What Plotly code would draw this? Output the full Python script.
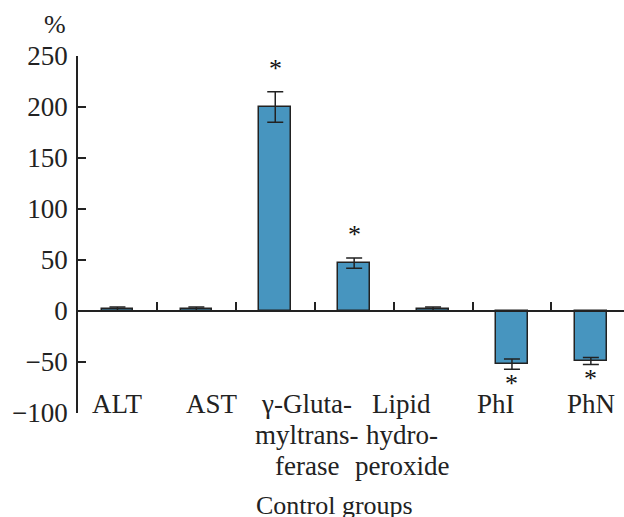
import plotly.graph_objects as go

# Data
bar_values = [2, 2, 200, 47, 2, -52, -49]
bar_errors = [2, 2, 15, 5, 2, 5, 3.5]
significant = [False, False, True, True, False, True, True]
group_labels = [["ALT"], ["AST"], ["γ-Gluta-", "myltrans-", "ferase"],
                ["Lipid", "hydro-", "peroxide"], ["PhI"], ["PhN"]]
y_ticks = [-100, -50, 0, 50, 100, 150, 200, 250]

FONT = "Liberation Serif, Times New Roman, serif"
BAR_COLOR = "#4795bf"
INK = "#222222"

W, H = 624, 517
ML, MR, MT, MB = 78, 0, 56, 104
PW, PH = W - ML - MR, H - MT - MB


def py(pix):
    return (H - MB - pix) / PH


def px(pix):
    return (pix - ML) / PW


x_pos = list(range(len(bar_values)))

fig = go.Figure()
fig.add_trace(go.Bar(
    x=x_pos, y=bar_values, width=0.4,
    marker=dict(color=BAR_COLOR, line=dict(color=INK, width=1.5)),
    error_y=dict(type="data", array=bar_errors, color=INK, thickness=1.5, width=8),
    showlegend=False,
))

annotations = []
# Category labels (evenly spread across the bars), one annotation per line
step = (len(bar_values) - 1) / (len(group_labels) - 1)
for i, lines in enumerate(group_labels):
    for j, line in enumerate(lines):
        annotations.append(dict(
            x=i * step, y=py(404 + 31 * j), xref="x", yref="paper", text=line,
            showarrow=False, yanchor="middle", xanchor="center",
            font=dict(family=FONT, size=27, color=INK),
        ))
# Significance asterisks
for xi, v, e, s in zip(x_pos, bar_values, bar_errors, significant):
    if not s:
        continue
    up = v >= 0
    annotations.append(dict(
        x=xi, y=v + e if up else v - e, xref="x", yref="y", text="*",
        showarrow=False, yanchor="middle", xanchor="center",
        yshift=23 if up else -14,
        font=dict(family=FONT, size=26, color="#111111"),
    ))
annotations.append(dict(
    x=px(55), y=py(24), xref="paper", yref="paper", text="%", showarrow=False,
    xanchor="center", yanchor="middle",
    font=dict(family=FONT, size=26, color=INK),
))
annotations.append(dict(
    x=px(334), y=py(505), xref="paper", yref="paper", text="Control groups",
    showarrow=False, xanchor="center", yanchor="middle",
    font=dict(family=FONT, size=26, color=INK),
))

fig.update_layout(
    width=W, height=H,
    margin=dict(l=ML, r=MR, t=MT, b=MB),
    paper_bgcolor="white", plot_bgcolor="white",
    font=dict(family=FONT, size=26, color=INK),
    annotations=annotations,
    bargap=0,
    xaxis=dict(
        range=[-0.5, 6.42], anchor="free", position=100 / 350,
        showline=True, linecolor=INK, linewidth=1.5,
        tickmode="array", tickvals=[i + 0.5 for i in range(len(bar_values) - 1)],
        ticks="inside", ticklen=8, tickwidth=1.5, tickcolor=INK,
        showticklabels=False, showgrid=False, zeroline=False,
    ),
    yaxis=dict(
        range=[-100, 250], tickmode="array", tickvals=y_ticks,
        showline=True, linecolor=INK, linewidth=1.5,
        ticks="inside", ticklen=8, tickwidth=1.5, tickcolor=INK,
        ticklabelstandoff=3,
        showgrid=False, zeroline=False,
        tickfont=dict(family=FONT, size=27, color=INK),
    ),
)

fig.write_html("out.html")
